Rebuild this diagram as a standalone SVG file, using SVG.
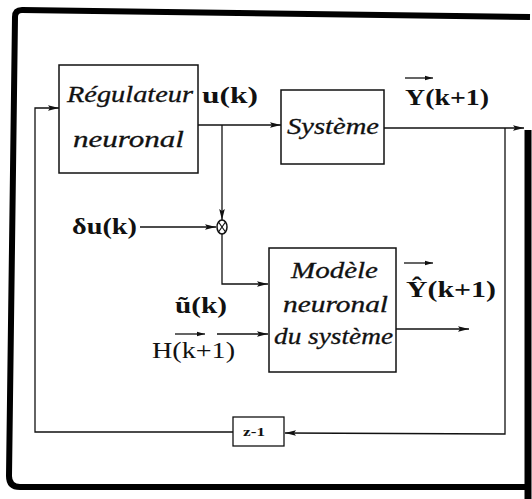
<svg xmlns="http://www.w3.org/2000/svg" width="532" height="499" viewBox="0 0 532 499">
<defs>
<marker id="ah" markerWidth="12" markerHeight="8" refX="11" refY="4" orient="auto" markerUnits="userSpaceOnUse">
<path d="M0,1.2 L11,4 L0,6.8 L2,4 Z" fill="#111"/>
</marker>
<marker id="sah" markerWidth="9" markerHeight="6" refX="8" refY="3" orient="auto" markerUnits="userSpaceOnUse">
<path d="M0,0.8 L8,3 L0,5.2 Z" fill="#111"/>
</marker>
</defs>
<style>
.box{fill:none;stroke:#111;stroke-width:1.5}
.ln{fill:none;stroke:#111;stroke-width:1.3}
.it{font-family:"Liberation Serif",serif;font-style:italic;font-size:23px;fill:#111;stroke:#111;stroke-width:0.3}
.bd{font-family:"Liberation Serif",serif;font-weight:bold;font-size:23px;fill:#111}
.rg{font-family:"Liberation Serif",serif;font-size:23px;fill:#111}
.frame{fill:none;stroke:#000;stroke-width:6}
</style>
<rect width="532" height="499" fill="#fff"/>
<g id="frame">
<path class="frame" d="M530,17 L22,10 Q15,10 15,17 L9,476 Q9,487 20,487 L526,487"/>
<path d="M528,130 L528,499" stroke="#000" stroke-width="7" fill="none"/>
</g>
<g id="connectors">
<polyline class="ln" points="233,432 35,432 35,108 59,108" marker-end="url(#ah)"/>
<line class="ln" x1="198" y1="125" x2="281" y2="125" marker-end="url(#ah)"/>
<line class="ln" x1="384" y1="128" x2="524" y2="128" marker-end="url(#ah)"/>
<polyline class="ln" points="505,128 505,434 285,433" marker-end="url(#ah)"/>
<line class="ln" x1="222" y1="125" x2="222" y2="220" marker-end="url(#ah)"/>
<line class="ln" x1="140" y1="227" x2="216" y2="227" marker-end="url(#ah)"/>
<polyline class="ln" points="222,234 222,284 268,284" marker-end="url(#ah)"/>
<line class="ln" x1="217" y1="334" x2="268" y2="334" marker-end="url(#ah)"/>
<line class="ln" x1="396" y1="329" x2="469" y2="329" marker-end="url(#ah)"/>
<line class="ln" x1="405" y1="78" x2="433" y2="78" marker-end="url(#sah)"/>
<line class="ln" x1="404" y1="263" x2="433" y2="263" marker-end="url(#sah)"/>
<line class="ln" x1="175" y1="334" x2="205" y2="334" marker-end="url(#sah)"/>
</g>
<g id="regulateur">
<rect class="box" x="59" y="65" width="139" height="108"/>
<text class="it" x="67" y="102" textLength="126" lengthAdjust="spacingAndGlyphs">Régulateur</text>
<text class="it" x="73" y="147" textLength="111" lengthAdjust="spacingAndGlyphs">neuronal</text>
</g>
<g id="systeme">
<rect class="box" x="281" y="90" width="103" height="74"/>
<text class="it" x="287" y="134" textLength="92" lengthAdjust="spacingAndGlyphs">Système</text>
</g>
<g id="multiplicateur">
<ellipse cx="222" cy="227" rx="5" ry="7" fill="#fff" stroke="#111" stroke-width="1.5"/>
<path d="M218.5,222 L225.5,232 M225.5,222 L218.5,232" stroke="#111" stroke-width="1.2"/>
</g>
<g id="modele">
<rect class="box" x="269" y="248" width="127" height="124"/>
<text class="it" x="291" y="278" textLength="87" lengthAdjust="spacingAndGlyphs">Modèle</text>
<text class="it" x="283" y="312" textLength="105" lengthAdjust="spacingAndGlyphs">neuronal</text>
<text class="it" x="274" y="344" textLength="119" lengthAdjust="spacingAndGlyphs">du système</text>
</g>
<g id="retard">
<rect x="233" y="417" width="51" height="29" fill="#fff" stroke="#111" stroke-width="1.3"/>
<text x="243" y="436" font-family="Liberation Serif,serif" font-weight="bold" font-size="12" fill="#111" textLength="22" lengthAdjust="spacingAndGlyphs">z-1</text>
</g>
<g id="labels">
<text class="bd" x="202" y="103" textLength="56" lengthAdjust="spacingAndGlyphs">u(k)</text>
<text class="bd" x="405" y="105" textLength="84" lengthAdjust="spacingAndGlyphs">Y(k+1)</text>
<text class="bd" x="72" y="234" textLength="65" lengthAdjust="spacingAndGlyphs">δu(k)</text>
<text class="bd" x="406" y="297" textLength="90" lengthAdjust="spacingAndGlyphs">Ŷ(k+1)</text>
<text class="bd" x="175" y="313" textLength="52" lengthAdjust="spacingAndGlyphs">ũ(k)</text>
<text class="rg" x="152" y="358" textLength="83" lengthAdjust="spacingAndGlyphs">H(k+1)</text>
</g>
</svg>
